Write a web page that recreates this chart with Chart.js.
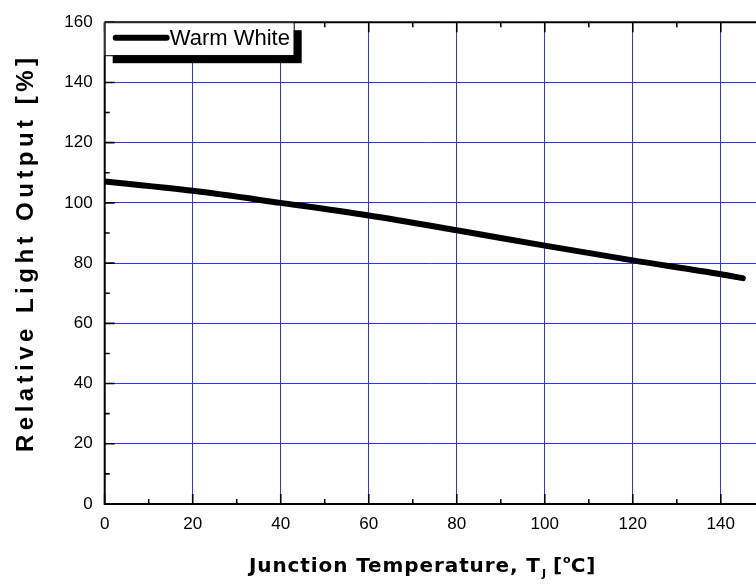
<!DOCTYPE html>
<html>
<head>
<meta charset="utf-8">
<script src="https://cdn.jsdelivr.net/npm/chart.js@4.4.1/dist/chart.umd.min.js"></script>
<style>
  html, body { margin: 0; padding: 0; background: #fff; }
  canvas { display: block; }
</style>
</head>
<body>
<canvas id="chart" width="756" height="586"></canvas>
<script>
"use strict";
// values
var temps = [0, 20, 40, 60, 80, 100, 120, 140, 145];
var output = [107.1, 104.0, 100.0, 95.8, 90.9, 85.8, 80.9, 76.3, 75.0];
var seriesName = "Warm White";
var xTitle = "Junction Temperature, T";
var yTitle = "Relative Light Output [%]";

var GRID = "#3030ff";
var TICK_FONT = { family: "'Liberation Sans', Arial, sans-serif", size: 17 };

function drawRuns(ctx, runs, x, y) {
  runs.forEach(function (r) {
    ctx.font = r.font;
    ctx.letterSpacing = r.spacing || "0px";
    ctx.fillText(r.text, x + (r.dx || 0), y + (r.dy || 0));
    x += ctx.measureText(r.text).width + (r.dx || 0);
  });
}

var framePlugin = {
  id: "frame",
  afterDraw: function (chart) {
    var ctx = chart.ctx;
    var xs = chart.scales.x, ys = chart.scales.y;
    var area = chart.chartArea;
    var i, px, py, len;
    ctx.save();
    ctx.strokeStyle = "#000";
    ctx.lineWidth = 2;
    ctx.beginPath();
    ctx.moveTo(area.left, area.top);
    ctx.lineTo(area.left, area.bottom);
    ctx.lineTo(chart.width, area.bottom);
    ctx.moveTo(area.left, area.top);
    ctx.lineTo(chart.width, area.top);
    ctx.stroke();

    // inward ticks: bottom, top and left
    ctx.lineWidth = 1.6;
    ctx.beginPath();
    for (i = 0; i <= 140; i += 10) {
      px = xs.getPixelForValue(i);
      len = i % 20 === 0 ? 10 : 5;
      ctx.moveTo(px, area.bottom);
      ctx.lineTo(px, area.bottom - len);
      ctx.moveTo(px, area.top);
      ctx.lineTo(px, area.top + len);
    }
    for (i = 0; i <= 160; i += 10) {
      py = ys.getPixelForValue(i);
      len = i % 20 === 0 ? 10 : 5;
      ctx.moveTo(area.left, py);
      ctx.lineTo(area.left + len, py);
    }
    ctx.stroke();

    // legend box with drop shadow
    var lx = area.left, ly = area.top, lw = 189, lh = 33;
    ctx.fillStyle = "#000";
    ctx.fillRect(lx + 8, ly + 8, lw, lh);
    ctx.fillStyle = "#fff";
    ctx.fillRect(lx, ly, lw, lh);
    ctx.lineWidth = 1;
    ctx.strokeRect(lx + 0.5, ly + 0.5, lw, lh);
    ctx.lineWidth = 6;
    ctx.lineCap = "round";
    ctx.beginPath();
    ctx.moveTo(lx + 11, ly + 15.5);
    ctx.lineTo(lx + 62, ly + 15.5);
    ctx.stroke();
    ctx.fillStyle = "#000";
    ctx.font = "22px 'Liberation Sans', Arial, sans-serif";
    ctx.textBaseline = "alphabetic";
    ctx.fillText(seriesName, lx + 65, ly + 23);

    // x axis title with subscript / superscript
    var big = "bold 20px 'DejaVu Sans', Verdana, sans-serif";
    var small = "bold 11px 'DejaVu Sans', Verdana, sans-serif";
    drawRuns(ctx, [
      { text: xTitle, font: big, spacing: "0.9px" },
      { text: "J", font: small, dy: 5, dx: 1 },
      { text: " [", font: big, spacing: "0px" },
      { text: "o", font: small, dy: -9, dx: 1 },
      { text: "C]", font: big, spacing: "1px" }
    ], 249, 572);

    // y axis title, rotated
    ctx.font = "bold 24px 'Liberation Sans', Arial, sans-serif";
    ctx.letterSpacing = "0px";
    var w0 = ctx.measureText(yTitle).width;
    var sp = (394 - w0) / (yTitle.length - 1);
    ctx.letterSpacing = sp + "px";
    ctx.translate(33, 255);
    ctx.rotate(-Math.PI / 2);
    ctx.textAlign = "left";
    ctx.fillText(yTitle, -197, 0);
    ctx.restore();
  }
};

new Chart(document.getElementById("chart"), {
  type: "scatter",
  data: {
    datasets: [{
      label: seriesName,
      data: temps.map(function (t, i) { return { x: t, y: output[i] }; }),
      showLine: true,
      borderColor: "#000",
      borderWidth: 6,
      borderCapStyle: "round",
      pointRadius: 0,
      cubicInterpolationMode: "monotone"
    }]
  },
  options: {
    responsive: false,
    animation: false,
    devicePixelRatio: 1,
    layout: { padding: { left: 0, right: 0, top: 16, bottom: 0 } },
    plugins: { legend: { display: false }, tooltip: { enabled: false } },
    scales: {
      x: {
        type: "linear",
        min: 0,
        max: 148,
        afterFit: function (s) { s.height = 82; },
        ticks: { stepSize: 20, includeBounds: false, color: "#000", font: TICK_FONT, padding: 10, maxRotation: 0 },
        grid: { color: GRID, lineWidth: 1, drawTicks: false },
        border: { display: false }
      },
      y: {
        type: "linear",
        min: 0,
        max: 160,
        afterFit: function (s) { s.width = 104.7; },
        ticks: { stepSize: 20, color: "#000", font: TICK_FONT, padding: 12 },
        grid: { color: GRID, lineWidth: 1, drawTicks: false },
        border: { display: false }
      }
    }
  },
  plugins: [framePlugin]
});
</script>
</body>
</html>
